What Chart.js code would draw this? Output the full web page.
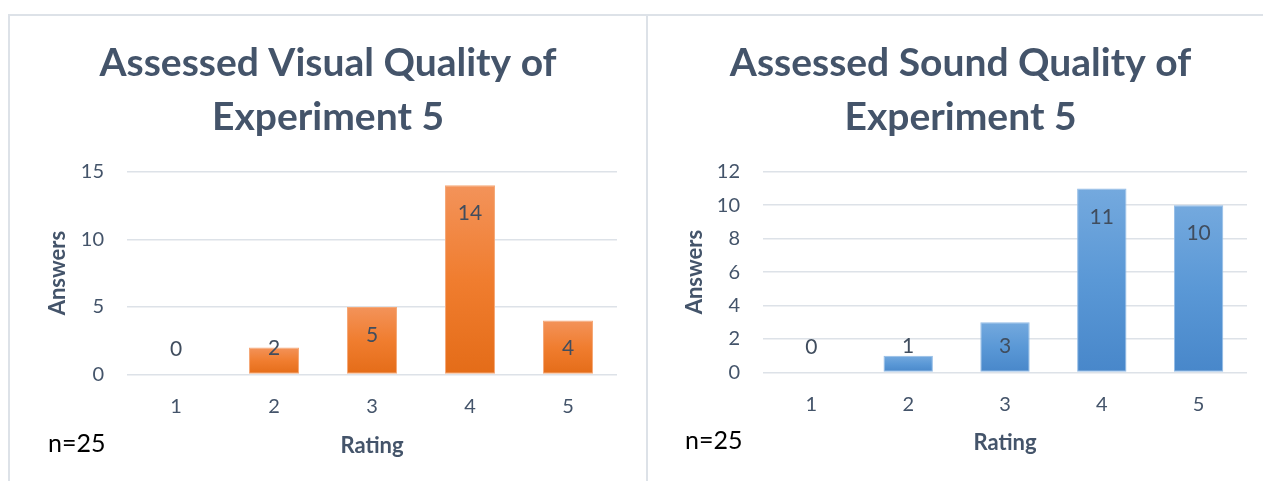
<!DOCTYPE html>
<html>
<head>
<meta charset="utf-8">
<script src="https://cdn.jsdelivr.net/npm/chart.js@4.4.1/dist/chart.umd.min.js"></script>
<style>
  html, body { margin: 0; padding: 0; background: #ffffff; }
  body { width: 1263px; height: 481px; position: relative; overflow: hidden; }
  .panel { position: absolute; top: 14px; border-top: 2px solid #DDE2E8; }
  #panelVisual { left: 8px; width: 636px; height: 480px; border-left: 2px solid #DDE2E8; border-right: 2px solid #DDE2E8; }
  #panelSound { left: 646px; width: 640px; height: 480px; }
  canvas { position: absolute; }
  #visualChart { left: 39px; top: 16px; }
  #soundChart { left: 674px; top: 16px; }
</style>
</head>
<body>
<div class="panel" id="panelVisual"></div>
<div class="panel" id="panelSound"></div>
<canvas id="visualChart" width="578" height="465"></canvas>
<canvas id="soundChart" width="573" height="465"></canvas>
<script>
// Survey results: number of answers per rating (1-5), n = 25 for each experiment.
const ratings = ['1', '2', '3', '4', '5'];
const visualAnswers = [0, 2, 5, 14, 4];
const soundAnswers = [0, 1, 3, 11, 10];
const visualTitle = ['Assessed Visual Quality of', 'Experiment 5'];
const soundTitle = ['Assessed Sound Quality of', 'Experiment 5'];
const visualTicks = { min: 0, max: 15, step: 5 };
const soundTicks = { min: 0, max: 12, step: 2 };
const sampleNote = 'n=25';

const FONT = 'Lato, "Noto Sans", "DejaVu Sans", sans-serif';
const SLATE = '#44546A';
const GRID = '#DDE2E8';

// Title block: two lines above the plot area.
const TITLE_SIZE = 39;
const TITLE_LINE = 1.37;
const TITLE_TOP = 21;
const PLOT_TOP = 155.7;

// Vertical gradient for each bar, from its top down to the zero line.
function barGradient(stops) {
  return function (ctx) {
    if (ctx.type !== 'data') return stops[1];
    const chart = ctx.chart;
    const y = chart.scales.y;
    if (!chart.chartArea || !y) return stops[1];
    const top = y.getPixelForValue(ctx.raw);
    const base = y.getPixelForValue(0);
    if (!(base - top > 0.5)) return stops[1];
    const g = chart.ctx.createLinearGradient(0, top, 0, base);
    g.addColorStop(0, stops[0]);
    g.addColorStop(0.5, stops[1]);
    g.addColorStop(1, stops[2]);
    return g;
  };
}

// Value labels sit just inside the top of each bar, but never lower than a fixed gap above the zero line.
const valueLabels = {
  id: 'valueLabels',
  afterDatasetsDraw(chart) {
    const ctx = chart.ctx;
    const meta = chart.getDatasetMeta(0);
    const values = chart.data.datasets[0].data;
    ctx.save();
    ctx.font = '21px ' + FONT;
    ctx.fillStyle = '#404D5E';
    ctx.textAlign = 'center';
    ctx.textBaseline = 'middle';
    meta.data.forEach((bar, i) => {
      const y = Math.min(bar.y + 28.5, bar.base - 25);
      ctx.fillText(String(values[i]), bar.x, y);
    });
    ctx.restore();
  }
};

// Sample size note in the lower left corner of each panel.
const noteText = {
  id: 'noteText',
  afterDraw(chart, args, opts) {
    const ctx = chart.ctx;
    ctx.save();
    ctx.font = '25px ' + FONT;
    ctx.fillStyle = '#000000';
    ctx.textAlign = 'left';
    ctx.textBaseline = 'middle';
    ctx.fillText(opts.text, opts.x, opts.y);
    ctx.restore();
  }
};

function makeChart(canvasId, cfg) {
  return new Chart(document.getElementById(canvasId), {
    type: 'bar',
    data: {
      labels: ratings,
      datasets: [{
        data: cfg.values,
        backgroundColor: barGradient(cfg.stops),
        borderColor: cfg.edge,
        borderWidth: 1,
        borderSkipped: false,
        categoryPercentage: 1,
        barPercentage: 0.51
      }]
    },
    options: {
      responsive: false,
      animation: false,
      events: [],
      layout: { padding: { left: 0, right: 0, top: 0, bottom: cfg.padBottom } },
      plugins: {
        legend: { display: false },
        tooltip: { enabled: false },
        title: {
          display: true,
          text: cfg.title,
          color: SLATE,
          font: { family: FONT, size: TITLE_SIZE, weight: 'bold', lineHeight: TITLE_LINE },
          padding: { top: TITLE_TOP, bottom: PLOT_TOP - TITLE_TOP - 2 * TITLE_SIZE * TITLE_LINE }
        },
        noteText: { text: sampleNote, x: cfg.noteX, y: cfg.noteY }
      },
      scales: {
        x: {
          grid: { display: false, drawTicks: false },
          border: { display: false },
          ticks: { color: SLATE, font: { family: FONT, size: 20 }, padding: 20 },
          title: {
            display: true, text: 'Rating', color: SLATE,
            font: { family: FONT, size: 22, weight: 'bold' },
            padding: { top: 0, bottom: cfg.xTitlePad }
          },
          afterFit(scale) { scale.height = 90; }
        },
        y: {
          min: cfg.ticks.min,
          max: cfg.ticks.max,
          grid: { color: GRID, lineWidth: 1.6, drawTicks: false },
          border: { display: false },
          ticks: { stepSize: cfg.ticks.step, color: SLATE, font: { family: FONT, size: 20 }, padding: 23 },
          title: {
            display: true, text: 'Answers', color: SLATE,
            font: { family: FONT, size: 22, weight: 'bold' },
            padding: { top: cfg.yTitlePad, bottom: 0 }
          },
          afterFit(scale) { scale.width = cfg.axisWidth; }
        }
      }
    },
    plugins: [valueLabels, noteText]
  });
}

makeChart('visualChart', {
  values: visualAnswers,
  title: visualTitle,
  ticks: visualTicks,
  stops: ['#F3935A', '#F07D2F', '#E46C18'],
  edge: '#F5A877',
  axisWidth: 88,
  yTitlePad: 5.8,
  padBottom: 16.5,
  xTitlePad: 5,
  noteX: 9,
  noteY: 428
});

makeChart('soundChart', {
  values: soundAnswers,
  title: soundTitle,
  ticks: soundTicks,
  stops: ['#74A9DE', '#5A98D6', '#4887CA'],
  edge: '#93BCE6',
  axisWidth: 89,
  yTitlePad: 7.8,
  padBottom: 18.5,
  xTitlePad: 6,
  noteX: 11,
  noteY: 425
});
</script>
</body>
</html>
